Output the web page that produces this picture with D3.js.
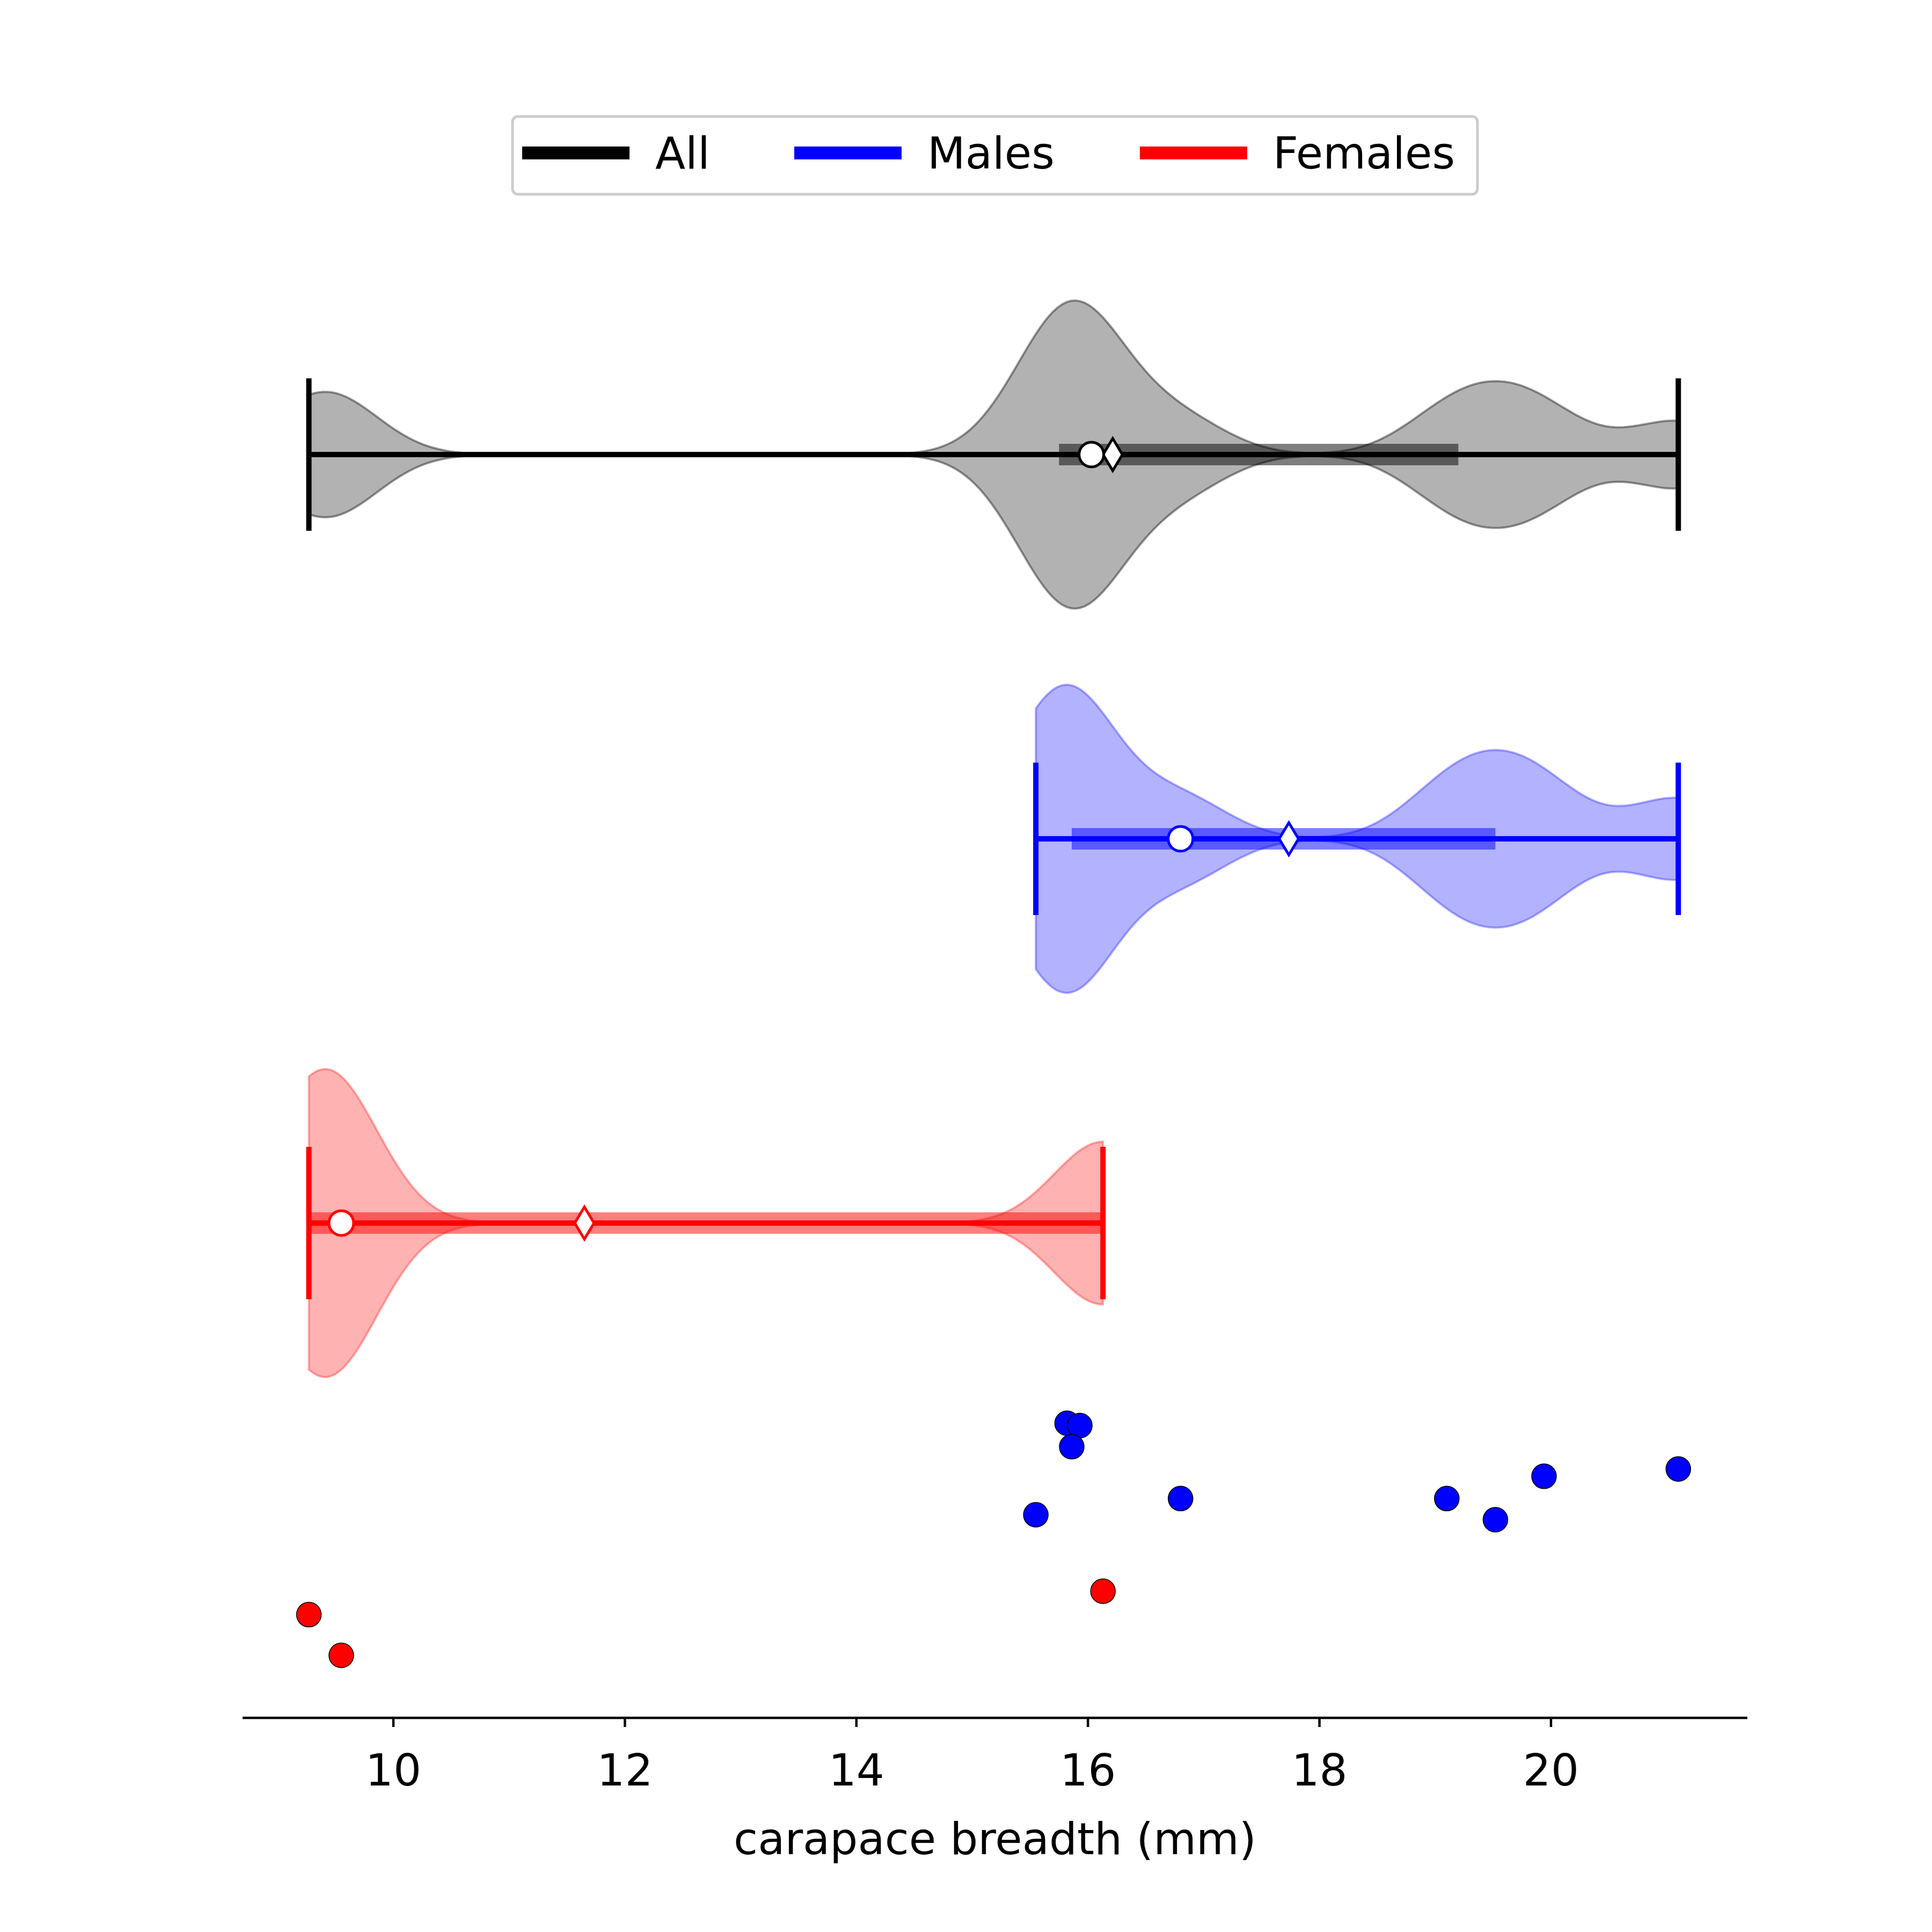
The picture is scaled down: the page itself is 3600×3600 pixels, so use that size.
<!DOCTYPE html>
<html><head><meta charset="utf-8">
<script src="https://cdn.jsdelivr.net/npm/d3@7"></script>
<style>body{margin:0;background:#fff}</style></head>
<body><svg id="c" width="3600" height="3600"></svg>
<script>
const groups = ["All","Males","Females"];
const colors = ["#000000","#0000ff","#ff0000"];
const males = [15.55,15.82,15.93,15.86,16.8,19.1,19.52,19.94,21.1];
const malesJitter = [2.759,2.521,2.527,2.582,2.717,2.717,2.772,2.659,2.640];
const females = [9.27,9.55,16.13];
const femalesJitter = [3.019,3.125,2.958];
const quartiles = [[15.75,19.2],[15.86,19.52],[9.27,16.13]];
const xTicks = [10,12,14,16,18,20];
const bandwidth = 0.42;

const svg = d3.select("#c");
const x = d3.scaleLinear().domain([10,20]).range([733,2890]);
const y = d3.scaleLinear().domain([0,1]).range([847,1563]);
const font = "DejaVu Sans, sans-serif";

const all = males.concat(females);
const sets = [all, males, females];
const fills = ["rgba(0,0,0,0.3)","rgba(0,0,255,0.3)","rgba(255,0,0,0.3)"];
const strokes = ["rgba(0,0,0,0.4)","rgba(0,0,255,0.3)","rgba(255,0,0,0.3)"];
const halfW = 287;

function kde(data){
  const n=data.length, bw=bandwidth;
  return v => d3.sum(data, d=>Math.exp(-0.5*((v-d)/bw)**2))/(n*bw*Math.sqrt(2*Math.PI));
}
sets.forEach((data,i)=>{
  const f=kde(data), lo=d3.min(data), hi=d3.max(data);
  const pts=d3.range(0,301).map(k=>lo+(hi-lo)*k/300);
  const dens=pts.map(f), mx=d3.max(dens);
  const cy=y(i), s=halfW/mx;
  const area=d3.area().x((d,k)=>x(pts[k])).y0((d,k)=>cy-dens[k]*s).y1((d,k)=>cy+dens[k]*s);
  svg.append("path").attr("d",area(pts)).attr("fill",fills[i]).attr("stroke",strokes[i]).attr("stroke-width",4);
  const med=d3.median(data), mean=d3.mean(data);
  const [q1,q3]=quartiles[i];
  const c=colors[i];
  svg.append("line").attr("x1",x(q1)).attr("x2",x(q3)).attr("y1",cy).attr("y2",cy).attr("stroke",c).attr("stroke-opacity",0.5).attr("stroke-width",40);
  svg.append("line").attr("x1",x(lo)).attr("x2",x(hi)).attr("y1",cy).attr("y2",cy).attr("stroke",c).attr("stroke-width",10);
  [lo,hi].forEach(v=>svg.append("line").attr("x1",x(v)).attr("x2",x(v)).attr("y1",cy-142).attr("y2",cy+142).attr("stroke",c).attr("stroke-width",10));
  svg.append("path").attr("d",`M${x(mean)},${cy-30}L${x(mean)+18},${cy}L${x(mean)},${cy+30}L${x(mean)-18},${cy}Z`).attr("fill","#fff").attr("stroke",c).attr("stroke-width",5);
  svg.append("circle").attr("cx",x(med)).attr("cy",cy).attr("r",23).attr("fill","#fff").attr("stroke",c).attr("stroke-width",5);
});
[[males,malesJitter,"#0000ff"],[females,femalesJitter,"#ff0000"]].forEach(([d,j,c])=>{
  d.forEach((v,k)=>svg.append("circle").attr("cx",x(v)).attr("cy",y(j[k])).attr("r",23).attr("fill",c).attr("stroke","#000").attr("stroke-width",1.5));
});

// axis
svg.append("line").attr("x1",452).attr("x2",3256).attr("y1",3201).attr("y2",3201).attr("stroke","#000").attr("stroke-width",4.5);
xTicks.forEach(t=>{
  svg.append("line").attr("x1",x(t)).attr("x2",x(t)).attr("y1",3201).attr("y2",3218).attr("stroke","#000").attr("stroke-width",4.5);
  svg.append("text").attr("x",x(t)).attr("y",3327).attr("text-anchor","middle").attr("font-family",font).attr("font-size",82).text(t);
});
svg.append("text").attr("x",(452+3256)/2).attr("y",3455).attr("text-anchor","middle").attr("font-family",font).attr("font-size",82).text("carapace breadth (mm)");

// legend
svg.append("rect").attr("x",955).attr("y",217).attr("width",1798).attr("height",145).attr("rx",10).attr("fill","#fff").attr("stroke","#ccc").attr("stroke-width",5);
const lx=[973,1480,2124];
groups.forEach((g,i)=>{
  svg.append("line").attr("x1",lx[i]).attr("x2",lx[i]+200).attr("y1",285).attr("y2",285).attr("stroke",colors[i]).attr("stroke-width",24);
  svg.append("text").attr("x",lx[i]+248).attr("y",314).attr("font-family",font).attr("font-size",82).text(g);
});
</script></body></html>
